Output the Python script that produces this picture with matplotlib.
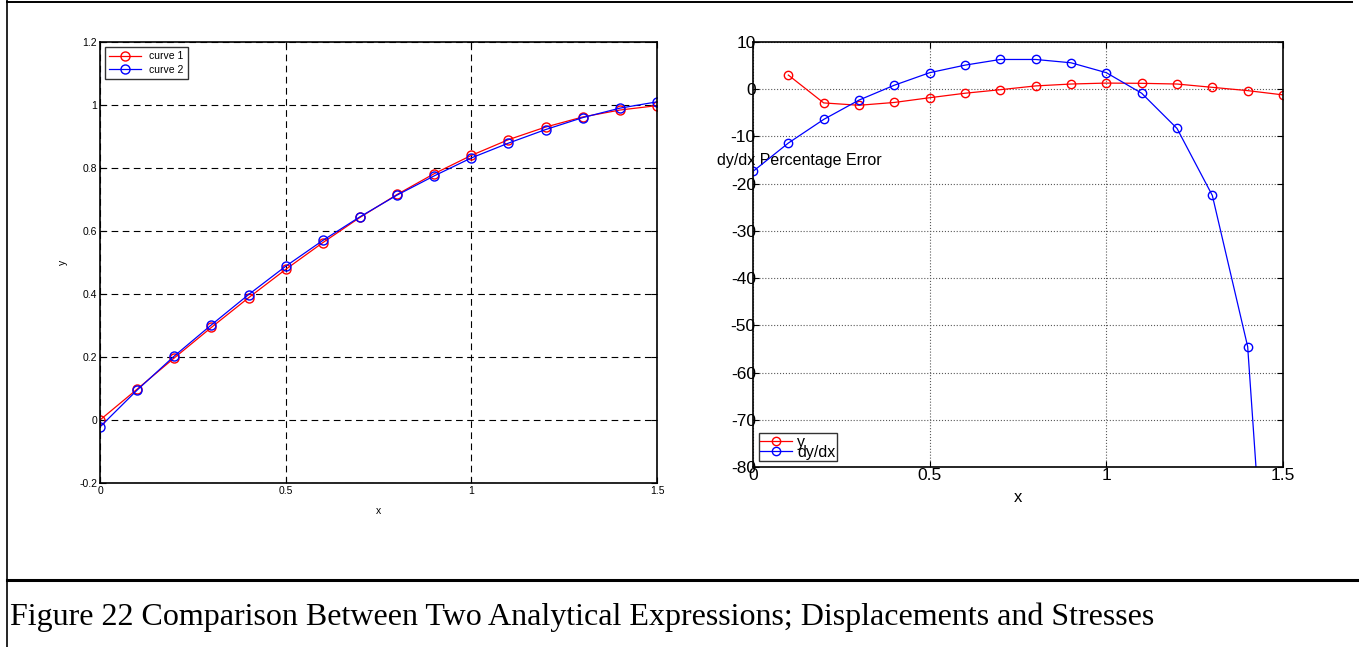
import numpy as np
import matplotlib
matplotlib.use("Agg")
import matplotlib.pyplot as plt
from matplotlib.lines import Line2D

plt.rcParams['font.family'] = ['Liberation Sans', 'DejaVu Sans']
plt.rcParams['axes.unicode_minus'] = False

# left panel: curve 1 / curve 2
x_left = [0.0, 0.1, 0.2, 0.3, 0.4, 0.5, 0.6, 0.7, 0.8, 0.9, 1.0, 1.1, 1.2, 1.3, 1.4, 1.5]
curve1 = [0.0, 0.098, 0.197, 0.294, 0.388, 0.478, 0.563, 0.643, 0.716, 0.782, 0.840, 0.890, 0.930, 0.962, 0.984, 0.998]
curve2 = [-0.022, 0.095, 0.203, 0.302, 0.398, 0.488, 0.570, 0.645, 0.714, 0.775, 0.832, 0.879, 0.922, 0.960, 0.990, 1.010]

# right panel: percentage errors
x_y = [0.1, 0.2, 0.3, 0.4, 0.5, 0.6, 0.7, 0.8, 0.9, 1.0, 1.1, 1.2, 1.3, 1.4, 1.5]
err_y = [3.0, -2.9, -3.4, -2.8, -1.8, -0.85, -0.1, 0.7, 1.1, 1.3, 1.25, 1.1, 0.4, -0.3, -1.2]
x_dydx = [0.0, 0.1, 0.2, 0.3, 0.4, 0.5, 0.6, 0.7, 0.8, 0.9, 1.0, 1.1, 1.2, 1.3, 1.4, 1.5]
err_dydx = [-17.4, -11.4, -6.4, -2.3, 0.85, 3.5, 5.1, 6.3, 6.3, 5.6, 3.5, -0.85, -8.3, -22.5, -54.5, -163.0]

caption = "Figure 22 Comparison Between Two Analytical Expressions; Displacements and Stresses"

W, H = 1359, 647
fig = plt.figure(figsize=(W / 100, H / 100), dpi=100)


def px_axes(l, t, r, b):
    return fig.add_axes([l / W, 1 - b / H, (r - l) / W, (b - t) / H])


# ---- left axes
ax1 = px_axes(100, 42, 657, 483)
ax1.plot(x_left, curve1, color='red', marker='o', mfc='none', ms=6.5, lw=0.9, label='curve 1')
ax1.plot(x_left, curve2, color='blue', marker='o', mfc='none', ms=6.5, lw=0.9, label='curve 2')
ax1.set_xlim(0, 1.5)
ax1.set_ylim(-0.2, 1.2)
ax1.set_xticks([0, 0.5, 1, 1.5])
ax1.set_xticklabels(['0', '0.5', '1', '1.5'])
ax1.set_yticks(np.arange(-0.2, 1.21, 0.2))
ax1.set_yticklabels(['-0.2', '0', '0.2', '0.4', '0.6', '0.8', '1', '1.2'])
ax1.tick_params(direction='in', top=True, right=True, labelsize=7.5, length=4, pad=2)
ax1.grid(True, color='black', linestyle=(0, (6, 4)), linewidth=0.8)
ax1.set_xlabel('x', fontsize=7.5, labelpad=7)
ax1.set_ylabel('y', fontsize=7.5, labelpad=8)
for s in ax1.spines.values():
    s.set_linewidth(1.2)
leg1 = ax1.legend(loc='upper left', fontsize=7.5, frameon=True, fancybox=False,
                  edgecolor='black', handlelength=3, borderpad=0.4,
                  labelspacing=0.3, borderaxespad=0.5)
leg1.get_frame().set_linewidth(1.0)

# ---- right axes
ax2 = px_axes(753, 42, 1283, 467)
ax2.plot(x_y, err_y, color='red', marker='o', mfc='none', ms=6, lw=0.9, label='y')
ax2.plot(x_dydx, err_dydx, color='blue', marker='o', mfc='none', ms=6, lw=0.9, label='dy/dx')
ax2.set_xlim(0, 1.5)
ax2.set_ylim(-80, 10)
ax2.set_xticks([0, 0.5, 1, 1.5])
ax2.set_xticklabels(['0', '0.5', '1', '1.5'])
ax2.set_yticks(np.arange(-80, 11, 10))
ax2.tick_params(direction='in', top=True, right=True, labelsize=12.5, length=4)
ax2.tick_params(axis='y', pad=-2)
ax2.tick_params(axis='x', pad=1)
ax2.grid(True, color='0.35', linestyle=':', linewidth=0.8)
ax2.set_xlabel('x', fontsize=12, labelpad=5)
ax2.set_ylabel('dy/dx Percentage Error', fontsize=11.5, rotation=0, ha='center', va='center')
ax2.yaxis.set_label_coords(0.087, 0.722)
for s in ax2.spines.values():
    s.set_linewidth(1.2)
leg2 = ax2.legend(loc='lower left', fontsize=11.5, frameon=True, fancybox=False,
                  edgecolor='black', handlelength=2, handletextpad=0.3,
                  borderpad=0.1, labelspacing=-0.3, borderaxespad=0.35)
leg2.get_frame().set_linewidth(1.0)

# ---- page border lines and caption
fig.add_artist(Line2D([7 / W, 7 / W], [0, 1], color='black', lw=1.2))
fig.add_artist(Line2D([7 / W, 1352 / W], [1 - 1.5 / H, 1 - 1.5 / H], color='black', lw=1.4))
fig.add_artist(Line2D([7 / W, 1], [1 - 580 / H, 1 - 580 / H], color='black', lw=2.2))
fig.text(10 / W, 1 - 617 / H, caption, fontsize=23, family='Liberation Serif',
         ha='left', va='center')

fig.savefig('out.png', dpi=100)
